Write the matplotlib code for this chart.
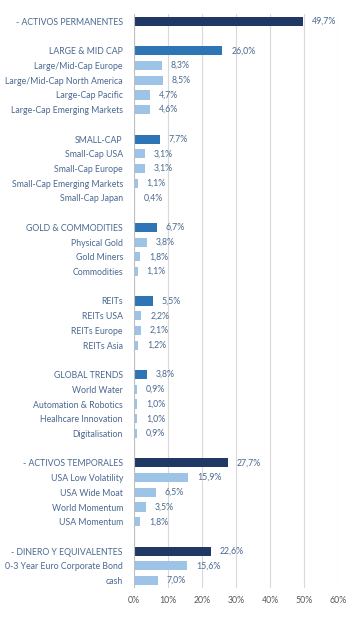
import matplotlib.pyplot as plt

labels = ["- ACTIVOS PERMANENTES", "",
          "LARGE & MID CAP", "Large/Mid-Cap Europe", "Large/Mid-Cap North America",
          "Large-Cap Pacific", "Large-Cap Emerging Markets", "",
          "SMALL-CAP", "Small-Cap USA", "Small-Cap Europe", "Small-Cap Emerging Markets",
          "Small-Cap Japan", "",
          "GOLD & COMMODITIES", "Physical Gold", "Gold Miners", "Commodities", "",
          "REITs", "REITs USA", "REITs Europe", "REITs Asia", "",
          "GLOBAL TRENDS", "World Water", "Automation & Robotics", "Healhcare Innovation",
          "Digitalisation", "",
          "- ACTIVOS TEMPORALES", "USA Low Volatility", "USA Wide Moat", "World Momentum",
          "USA Momentum", "",
          "- DINERO Y EQUIVALENTES", "0-3 Year Euro Corporate Bond", "cash"]
values = [49.7, None,
          26.0, 8.3, 8.5, 4.7, 4.6, None,
          7.7, 3.1, 3.1, 1.1, 0.4, None,
          6.7, 3.8, 1.8, 1.1, None,
          5.5, 2.2, 2.1, 1.2, None,
          3.8, 0.9, 1.0, 1.0, 0.9, None,
          27.7, 15.9, 6.5, 3.5, 1.8, None,
          22.6, 15.6, 7.0]
levels = [0, None,
          1, 2, 2, 2, 2, None,
          1, 2, 2, 2, 2, None,
          1, 2, 2, 2, None,
          1, 2, 2, 2, None,
          1, 2, 2, 2, 2, None,
          0, 2, 2, 2, 2, None,
          0, 2, 2]
colors = {0: "#1F3864", 1: "#2E75B6", 2: "#9DC3E6"}
txt = "#4A6890"

plt.rcParams['font.family'] = ['Lato', 'DejaVu Sans']
fig = plt.figure(figsize=(3.61, 6.19), dpi=100)
ax = fig.add_axes([134 / 361, 31 / 619, 204 / 361, 574 / 619])

for i, (v, lv) in enumerate(zip(values, levels)):
    if v is None:
        continue
    ax.barh(i, v, height=0.62, color=colors[lv], zorder=3)
    ax.text(v + 2.6, i, f"{v:.1f}%".replace(".", ","), va="center", ha="left",
            fontsize=6.3, color=txt)

ax.set_ylim(len(labels) - 0.5, -0.5)
ax.set_xlim(0, 60)
ax.set_yticks(range(len(labels)))
ax.set_yticklabels(labels, fontsize=6.3, color=txt)
ax.set_xticks(range(0, 61, 10))
ax.set_xticklabels([f"{x}%" for x in range(0, 61, 10)], fontsize=6.3, color="#595959")
ax.tick_params(length=0, pad=8)
ax.tick_params(axis="x", pad=6)
ax.grid(axis="x", color="#D9D9D9", linewidth=0.8, zorder=0)
for s in ax.spines.values():
    s.set_visible(False)
ax.axvline(0, color="#BFBFBF", linewidth=0.8, zorder=4)

fig.savefig("out.png", dpi=100)
